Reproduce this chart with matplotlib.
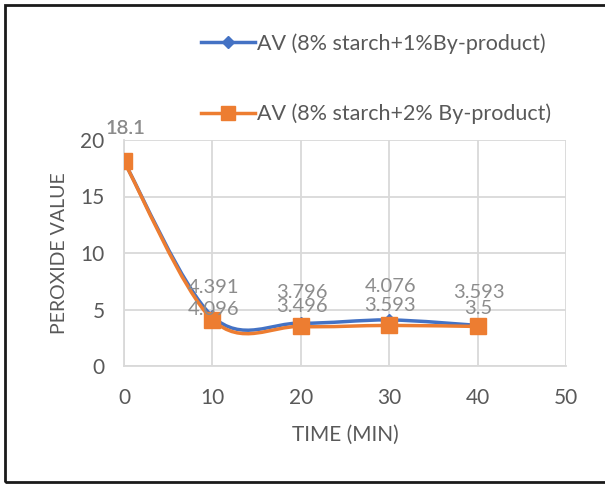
import matplotlib
matplotlib.use("Agg")
import matplotlib.pyplot as plt
from matplotlib.path import Path
from matplotlib.patches import PathPatch, Rectangle
from matplotlib.lines import Line2D
import numpy as np

plt.rcParams['font.family'] = ['Lato', 'DejaVu Sans']

# Data
time_min = [0, 10, 20, 30, 40]
av_1pct = [18.1, 4.391, 3.796, 4.076, 3.593]
av_2pct = [18.1, 4.096, 3.496, 3.593, 3.5]
label_1pct = "AV (8% starch+1%By-product)"
label_2pct = "AV (8% starch+2% By-product)"
x_ticks = [0, 10, 20, 30, 40, 50]
y_ticks = [0, 5, 10, 15, 20]

# Vertical label offsets (pixels above each point)
lift_1pct = [33, 29, 31, 33, 33]
lift_2pct = [33, 10, 20, 20, 18]

BLUE = "#4472C4"
ORANGE = "#ED7D31"
TEXT = "#595959"
LABEL = "#8C8C8C"
GRID = "#D9D9D9"

W, H = 605, 484
fig = plt.figure(figsize=(W / 100, H / 100), dpi=100)
ax = fig.add_axes([124 / W, 1 - 366 / H, (566 - 124) / W, (366 - 140) / H])


def smooth_path(xs, ys):
    """Bezier path through the points, Catmull-Rom style tangents."""
    pts = np.column_stack([xs, ys]).astype(float)
    n = len(pts)
    verts = [pts[0]]
    codes = [Path.MOVETO]
    for i in range(n - 1):
        p0 = pts[max(i - 1, 0)]
        p1 = pts[i]
        p2 = pts[i + 1]
        p3 = pts[min(i + 2, n - 1)]
        c1 = p1 + (p2 - p0) / 6.0
        c2 = p2 - (p3 - p1) / 6.0
        verts += [c1, c2, p2]
        codes += [Path.CURVE4] * 3
    return Path(verts, codes)


for xs, ys, color, marker, ms, z in [
    (time_min, av_1pct, BLUE, "D", 6.5, 3),
    (time_min, av_2pct, ORANGE, "s", 12, 4),
]:
    ax.add_patch(PathPatch(smooth_path(xs, ys), fill=False, edgecolor=color,
                           lw=2.5, capstyle="round", joinstyle="round", zorder=z))
    ax.plot(xs, ys, linestyle="none", marker=marker, ms=ms, color=color, zorder=z)

# Value labels
for xs, ys, lifts in [(time_min, av_1pct, lift_1pct), (time_min, av_2pct, lift_2pct)]:
    for x, y, dy in zip(xs, ys, lifts):
        ax.annotate(f"{y:g}", (x, y), xytext=(1, dy), textcoords="offset pixels",
                    ha="center", va="center", fontsize=14.5, color=LABEL, zorder=6)

ax.set_xlim(0, 50)
ax.set_ylim(0, 20)
ax.set_xticks(x_ticks)
ax.set_yticks(y_ticks)
ax.grid(True, color=GRID, lw=1.3)
ax.set_axisbelow(True)
for s in ["top", "right"]:
    ax.spines[s].set_visible(False)
for s in ["left", "bottom"]:
    ax.spines[s].set_color(GRID)
    ax.spines[s].set_linewidth(1.3)
ax.tick_params(axis="x", length=0, labelsize=15, colors=TEXT, pad=16)
ax.tick_params(axis="y", length=0, labelsize=15, colors=TEXT, pad=14)
ax.set_xlabel("TIME (MIN)", fontsize=15, color=TEXT, labelpad=12)
ax.set_ylabel("PEROXIDE VALUE", fontsize=14, color=TEXT, labelpad=9)

handles = [
    Line2D([], [], color=BLUE, lw=2.5, marker="D", ms=6.5),
    Line2D([], [], color=ORANGE, lw=2.5, marker="s", ms=10),
]
fig.legend(handles, [label_1pct, label_2pct], loc="upper left",
           bbox_to_anchor=(184 / W, 1 - 16 / H), frameon=False, fontsize=15.5,
           labelcolor=TEXT, handlelength=2.5, handletextpad=0.1,
           labelspacing=2.32, borderpad=0.3)

# Outer frame
fig.patches.append(Rectangle((5 / W, 2 / H), 1.1, 1 - 7 / H, transform=fig.transFigure,
                             fill=False, edgecolor="#1a1a1a", lw=2, clip_on=False))

fig.savefig("out.png", dpi=100)
